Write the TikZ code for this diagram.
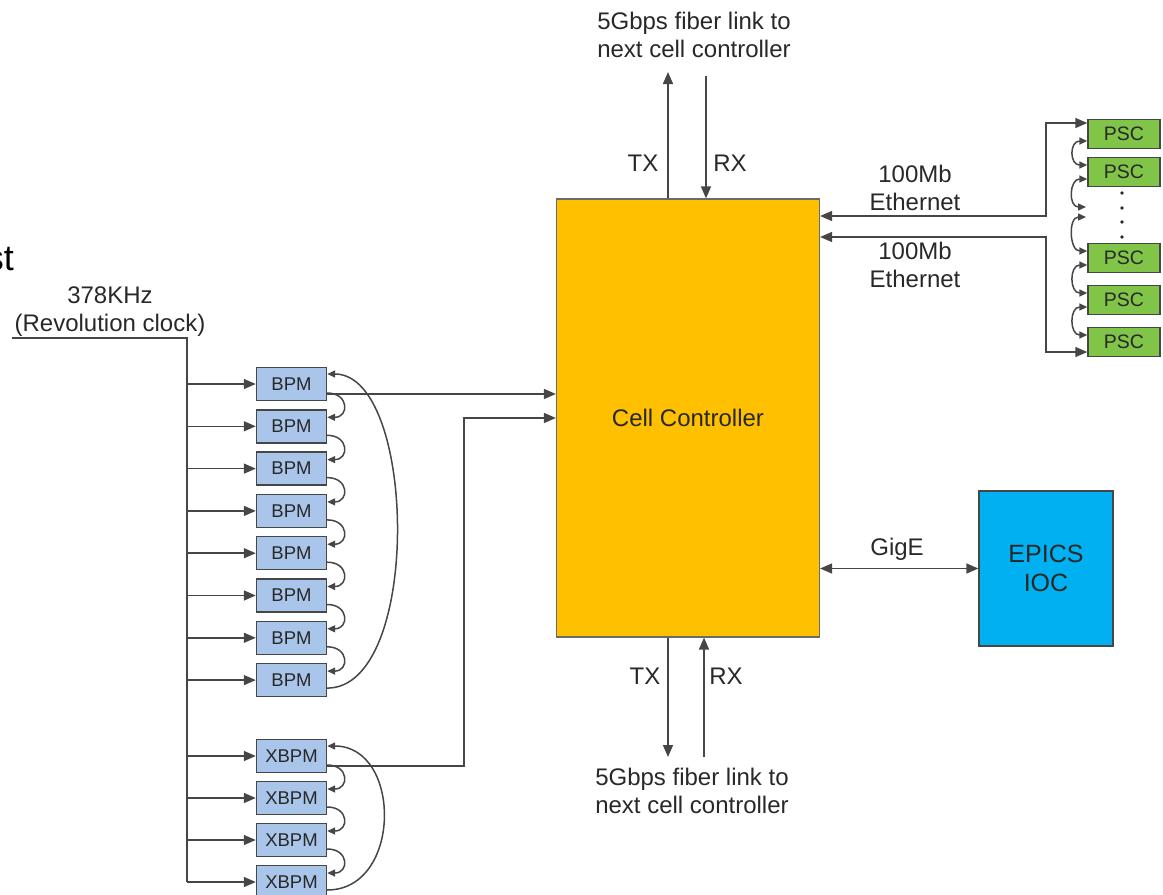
\documentclass[tikz,border=0pt]{standalone}
\usepackage{fontspec}
\setmainfont{Liberation Sans}
\usetikzlibrary{arrows.meta,positioning,calc}
\definecolor{ccyellow}{RGB}{255,192,0}
\definecolor{iocblue}{RGB}{0,176,240}
\definecolor{bpmblue}{RGB}{170,197,234}
\definecolor{pscgreen}{RGB}{128,196,72}
\definecolor{linegray}{RGB}{70,70,70}
\definecolor{textgray}{RGB}{40,40,40}

\begin{document}
\begin{tikzpicture}[x=1pt,y=-1pt,>={Triangle[length=12pt,width=10pt]},
  wire/.style={draw=linegray,line width=1.5pt},
  smalltip/.style={>={Triangle[length=8pt,width=7pt]}},
  lbl/.style={text=textgray,font=\fontsize{24}{28}\selectfont,align=center,inner sep=0pt},
  bpmbox/.style={draw=linegray,line width=1.4pt,fill=bpmblue,minimum width=70pt,minimum height=33pt,
    inner sep=0pt,text=textgray,font=\fontsize{18.5}{20}\selectfont},
  pscbox/.style={draw=linegray,line width=1.4pt,fill=pscgreen,minimum width=72pt,minimum height=29pt,
    inner sep=0pt,text=textgray,font=\fontsize{19.5}{20}\selectfont},
  ccbox/.style={draw=linegray!80,line width=1.2pt,fill=ccyellow,minimum width=263pt,minimum height=438pt,
    inner sep=0pt,text=textgray,font=\fontsize{24}{28}\selectfont},
  iocbox/.style={draw=linegray,line width=1.2pt,fill=iocblue,minimum width=134pt,minimum height=155pt,
    inner sep=0pt,align=center,text=textgray,font=\fontsize{25}{29}\selectfont}]
  \useasboundingbox (0,0) rectangle (1163,895);

  % Cut-off title fragment
  \node[anchor=base east,inner sep=0pt,font=\fontsize{36}{40}\selectfont] (frag) at (14,270) {st};

  % Cell controller and IOC
  \node[ccbox] (cc) at (688,418) {Cell Controller};
  \node[iocbox] (ioc) at (1046,568.5) {EPICS\\IOC};
  \draw[wire,<->] (ioc.west -| cc.east) -- (ioc.west);
  \node[lbl] (gige) at (897,549) {GigE};

  % Fiber links
  \coordinate (txtop) at (668,72);
  \coordinate (rxtop) at (706,76);
  \coordinate (txbot) at (668,757);
  \coordinate (rxbot) at (704,757);
  \draw[wire,->] (txtop |- cc.north) -- (txtop);
  \draw[wire,->] (rxtop) -- (rxtop |- cc.north);
  \draw[wire,->] (txbot |- cc.south) -- (txbot);
  \draw[wire,->] (rxbot) -- (rxbot |- cc.south);
  \node[lbl] (fibtop) at (694,35) {5Gbps fiber link to\\next cell controller};
  \node[lbl] (fibbot) at (692,791) {5Gbps fiber link to\\next cell controller};
  \node[lbl] (txt) at (643,163) {TX};
  \node[lbl] (rxt) at (730,163) {RX};
  \node[lbl] (txb) at (645,676) {TX};
  \node[lbl] (rxb) at (726,676) {RX};

  % Power supply controllers
  \node[pscbox] (psc1) at (1124,134) {PSC};
  \node[pscbox] (psc2) at (1124,172) {PSC};
  \node[pscbox] (psc3) at (1124,258) {PSC};
  \node[pscbox] (psc4) at (1124,300) {PSC};
  \node[pscbox] (psc5) at (1124,342) {PSC};
  \foreach \y in {193,208,222,237}
    \fill[textgray] (1122,\y) circle (1.8pt);
  \coordinate (ethup) at (1046,216);
  \coordinate (ethdn) at (1046,237);
  \draw[wire,<->] (ethup -| cc.east) -- (ethup) |- ([yshift=11pt]psc1.west);
  \draw[wire,<->] (ethdn -| cc.east) -- (ethdn) |- ([yshift=-10pt]psc5.west);
  \node[lbl] (eth1) at (915,188) {100Mb\\Ethernet};
  \node[lbl] (eth2) at (915,265) {100Mb\\Ethernet};
  \coordinate (gapa) at (1086,207);
  \coordinate (gapb) at (1086,217);
  \draw[wire,smalltip,<->] ([yshift=-7pt]psc1.west) .. controls +(-18,0) and +(-18,0) .. ([yshift=7pt]psc2.west);
  \draw[wire,smalltip,<->] ([yshift=-7pt]psc2.west) .. controls +(-18,0) and +(-18,0) .. (gapa);
  \draw[wire,smalltip,<->] (gapb) .. controls +(-18,0) and +(-18,0) .. ([yshift=7pt]psc3.west);
  \draw[wire,smalltip,<->] ([yshift=-7pt]psc3.west) .. controls +(-18,0) and +(-18,0) .. ([yshift=7pt]psc4.west);
  \draw[wire,smalltip,<->] ([yshift=-7pt]psc4.west) .. controls +(-18,0) and +(-18,0) .. ([yshift=7pt]psc5.west);

  % BPMs and XBPMs
  \foreach \i in {1,...,8}
    \node[bpmbox] (bpm\i) at (291.5,{384+42.3*(\i-1)}) {BPM};
  \foreach \i in {1,...,4}
    \node[bpmbox] (xbpm\i) at (291.5,{756+42*(\i-1)}) {XBPM};

  % Revolution clock
  \coordinate (clkin) at (12,338);
  \coordinate (clkbus) at (187,338);
  \draw[wire] (clkin) -- (clkbus) -- (clkbus |- xbpm4.west);
  \foreach \n in {bpm1,bpm2,bpm3,bpm4,bpm5,bpm6,bpm7,bpm8,xbpm1,xbpm2,xbpm3,xbpm4}
    \draw[wire,->] (clkbus |- \n.west) -- (\n.west);
  \node[lbl] (clklbl) at (110,312) {378KHz\\(Revolution clock)};

  % Daisy chains
  \foreach \i [evaluate=\i as \j using int(\i+1)] in {1,...,7}
    \draw[wire,smalltip,->] ([yshift=-9pt]bpm\i.east) .. controls +(22,0) and +(22,0) .. ([yshift=9pt]bpm\j.east);
  \foreach \i [evaluate=\i as \j using int(\i+1)] in {1,...,3}
    \draw[wire,smalltip,->] ([yshift=-9pt]xbpm\i.east) .. controls +(22,0) and +(22,0) .. ([yshift=9pt]xbpm\j.east);
  \draw[wire,smalltip,->] ([yshift=-8pt]bpm8.east) .. controls +(95,0) and +(90,0) .. ([yshift=10pt]bpm1.east);
  \draw[wire,smalltip,->] ([yshift=-8pt]xbpm4.east) .. controls +(75,0) and +(75,0) .. ([yshift=10pt]xbpm1.east);

  % Links into the cell controller
  \coordinate (xbend) at (464,418);
  \draw[wire,->] ([yshift=-10pt]bpm1.east) -- ([yshift=-10pt]bpm1.east -| cc.west);
  \draw[wire,->] ([yshift=-10pt]xbpm1.east) -| (xbend) -- (xbend -| cc.west);
\end{tikzpicture}
\end{document}
